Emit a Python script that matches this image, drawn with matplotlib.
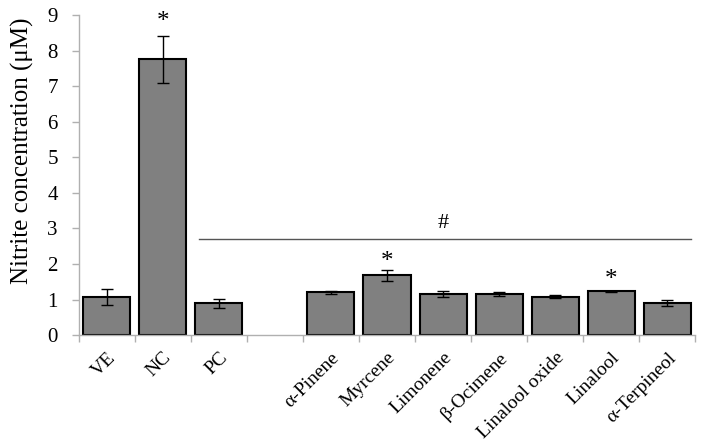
import matplotlib
matplotlib.use("Agg")
import matplotlib.pyplot as plt
import numpy as np

categories = ["VE", "NC", "PC", "", "α-Pinene", "Myrcene", "Limonene", "β-Ocimene",
              "Linalool oxide", "Linalool", "α-Terpineol"]
values = [1.08, 7.75, 0.89, np.nan, 1.20, 1.68, 1.15, 1.15, 1.08, 1.23, 0.90]
errors = [0.23, 0.67, 0.12, np.nan, 0.05, 0.15, 0.08, 0.06, 0.04, 0.02, 0.08]
star_labels = {"NC": 8.8, "Myrcene": 2.05, "Linalool": 1.55}
yticks = [0, 1, 2, 3, 4, 5, 6, 7, 8, 9]

plt.rcParams['font.family'] = ['Liberation Serif', 'DejaVu Serif']

fig = plt.figure(figsize=(7.03, 4.41), dpi=100)
ax = fig.add_axes([0.112, 0.240, 0.877, 0.726])

x = np.arange(len(categories))
ax.bar(x, values, width=0.84, color="#808080", edgecolor="black", linewidth=1.5, zorder=2)
ax.errorbar(x, values, yerr=errors, fmt="none", ecolor="black", elinewidth=1,
            capsize=4, capthick=1, zorder=3)

for cat, yv in star_labels.items():
    i = categories.index(cat)
    ax.text(i, yv, "*", ha="center", va="center", fontsize=18)

# significance line
ax.plot([1.64, 10.43], [2.7, 2.7], color="#555555", linewidth=1, zorder=1)
ax.text(6.0, 3.15, "#", ha="center", va="center", fontsize=16)

ax.set_xlim(-0.5, len(categories) - 0.5)
ax.set_ylim(0, 9)
ax.set_yticks(yticks)
ax.set_xticks(x)
ax.set_xticklabels(categories, rotation=45, ha="right", rotation_mode="anchor", fontsize=14)
ax.set_xticks(np.arange(-0.5, len(categories) + 0.5, 1), minor=True)
ax.tick_params(axis="x", which="major", length=0, pad=10)
ax.tick_params(axis="x", which="minor", length=5, color="#b0b0b0", width=1)
ax.tick_params(axis="y", length=5, color="#b0b0b0", width=1, labelsize=15, pad=10)

for s in ["top", "right"]:
    ax.spines[s].set_visible(False)
for s in ["left", "bottom"]:
    ax.spines[s].set_color("#b0b0b0")
    ax.spines[s].set_linewidth(1)

ax.set_ylabel("Nitrite concentration (μM)", fontsize=18)
ax.yaxis.set_label_coords(-0.073, 0.575)

fig.savefig("out.png", dpi=100)
